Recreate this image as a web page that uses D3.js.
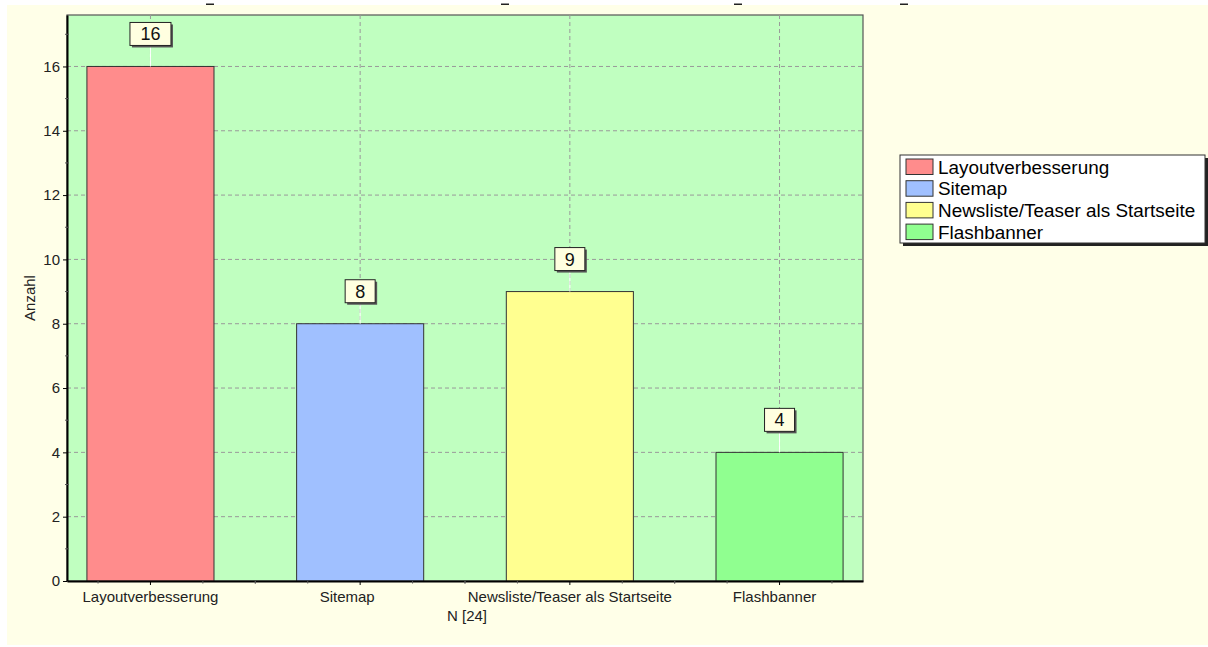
<!DOCTYPE html>
<html>
<head>
<meta charset="utf-8">
<script src="https://cdn.jsdelivr.net/npm/d3@7"></script>
<style>
  html, body { margin: 0; padding: 0; background: #ffffff; }
  svg { display: block; font-family: Arial, "Liberation Sans", sans-serif; }
</style>
</head>
<body>
<svg id="chart" width="1208" height="647"></svg>
<script>
// Survey answers and their counts
const categories = ["Layoutverbesserung", "Sitemap", "Newsliste/Teaser als Startseite", "Flashbanner"];
const counts = [16, 8, 9, 4];
const barColors = ["#ff8c8c", "#a0c0ff", "#ffff90", "#90ff90"];
const yTicks = [0, 2, 4, 6, 8, 10, 12, 14, 16];
const yAxisTitle = "Anzahl";
const xAxisTitle = "N [24]";

const svg = d3.select("#chart");
const W = 1208, H = 647;
const plot = { left: 67, right: 863, top: 15, bottom: 581 };
// horizontal nudges of the category labels under the axis
const xLabelShift = { "Sitemap": -13, "Flashbanner": -5 };

// page background
svg.append("rect").attr("x", 7).attr("y", 5).attr("width", W - 7).attr("height", H - 7)
  .attr("fill", "#ffffe8");

// remnants of the clipped heading row
const headMarks = [206, 501, 734, 900];
svg.selectAll("rect.head").data(headMarks).join("rect").attr("class", "head")
  .attr("x", d => d).attr("y", 3.5).attr("width", 8).attr("height", 1.5).attr("fill", "#222");

const x = d3.scaleBand().domain(categories).range([plot.left, plot.right])
  .paddingInner(0.394).paddingOuter(0.095);
const y = d3.scaleLinear().domain([0, 17.6]).range([plot.bottom, plot.top]);

// plot area
svg.append("rect").attr("x", plot.left).attr("y", plot.top)
  .attr("width", plot.right - plot.left).attr("height", plot.bottom - plot.top)
  .attr("fill", "#c0ffc0").attr("stroke", "#555").attr("stroke-width", 1.2);

const cx = d => x(d) + x.bandwidth() / 2;

// dashed grid
const grid = svg.append("g").attr("stroke", "#999").attr("stroke-dasharray", "4,3").attr("stroke-width", 1);
grid.selectAll("line.h").data(yTicks.filter(v => v > 0)).join("line").attr("class", "h")
  .attr("x1", plot.left).attr("x2", plot.right).attr("y1", d => y(d)).attr("y2", d => y(d));
grid.selectAll("line.v").data(categories).join("line").attr("class", "v")
  .attr("x1", cx).attr("x2", cx).attr("y1", plot.top).attr("y2", plot.bottom);

// bars
svg.selectAll("rect.bar").data(categories).join("rect").attr("class", "bar")
  .attr("x", d => x(d)).attr("width", x.bandwidth())
  .attr("y", (d, i) => y(counts[i])).attr("height", (d, i) => y(0) - y(counts[i]))
  .attr("fill", (d, i) => barColors[i]).attr("stroke", "#333").attr("stroke-width", 1);

// y axis
const yAxis = d3.axisLeft(y).tickValues(yTicks).tickSizeInner(4).tickSizeOuter(0).tickPadding(3).tickFormat(d3.format("d"));
const gy = svg.append("g").attr("transform", `translate(${plot.left},0)`).call(yAxis);
gy.select(".domain").attr("stroke", "#000").attr("stroke-width", 2);
gy.selectAll("text").attr("font-size", 15).attr("fill", "#222").attr("font-family", "Arial, 'Liberation Sans', sans-serif");
const yMinor = d3.range(1, 17.6, 2);
gy.selectAll("line.minor").data(yMinor).join("line").attr("class", "minor")
  .attr("x1", -2).attr("x2", 2).attr("y1", d => y(d)).attr("y2", d => y(d)).attr("stroke", "#555");

// x axis
const xAxis = d3.axisBottom(x).tickSizeInner(4).tickSizeOuter(0).tickPadding(6);
const gx = svg.append("g").attr("transform", `translate(0,${plot.bottom})`).call(xAxis);
gx.select(".domain").attr("stroke", "#000").attr("stroke-width", 2);
gx.selectAll(".tick text").attr("font-size", 15).attr("fill", "#222")
  .attr("font-family", "Arial, 'Liberation Sans', sans-serif")
  .attr("dx", d => xLabelShift[d] || 0);
const step = x.step();
const xMinor = [];
categories.forEach(c => [-0.5, -0.25, 0.25, 0.5].forEach(f => xMinor.push(cx(c) + f * step)));
gx.selectAll("line.minor").data(xMinor.filter(v => v > plot.left && v < plot.right)).join("line").attr("class", "minor")
  .attr("x1", d => d).attr("x2", d => d).attr("y1", 0).attr("y2", 2.5).attr("stroke", "#555");

// axis titles
svg.append("text").attr("transform", "translate(35,298) rotate(-90)")
  .attr("text-anchor", "middle").attr("font-size", 15).attr("fill", "#222").text(yAxisTitle);
svg.append("text").attr("x", (plot.left + plot.right) / 2 + 2).attr("y", 621)
  .attr("text-anchor", "middle").attr("font-size", 15).attr("fill", "#222").text(xAxisTitle);

// value labels with connector
const lab = svg.selectAll("g.lab").data(categories).join("g").attr("class", "lab");
lab.append("line").attr("x1", cx).attr("x2", cx)
  .attr("y1", (d, i) => y(counts[i]) - 21).attr("y2", (d, i) => y(counts[i]))
  .attr("stroke", "#fff").attr("stroke-width", 1);
lab.each(function (d, i) {
  const g = d3.select(this);
  const txt = String(counts[i]);
  const w = txt.length > 1 ? 41 : 30, h = 23;
  const bx = cx(d) - w / 2, by = y(counts[i]) - 21 - h;
  g.append("rect").attr("x", bx + 2).attr("y", by + 2).attr("width", w).attr("height", h).attr("fill", "#555");
  g.append("rect").attr("x", bx).attr("y", by).attr("width", w).attr("height", h)
    .attr("fill", "#ffffe0").attr("stroke", "#222").attr("stroke-width", 1);
  g.append("text").attr("x", cx(d)).attr("y", by + h / 2 + 6.5).attr("text-anchor", "middle")
    .attr("font-size", 18).attr("fill", "#111").text(txt);
});

// legend
const leg = { x: 900, y: 155, w: 305, h: 88 };
svg.append("rect").attr("x", leg.x + 3).attr("y", leg.y + 3).attr("width", leg.w).attr("height", leg.h).attr("fill", "#222");
svg.append("rect").attr("x", leg.x).attr("y", leg.y).attr("width", leg.w).attr("height", leg.h)
  .attr("fill", "#fff").attr("stroke", "#333").attr("stroke-width", 1);
const items = svg.selectAll("g.li").data(categories).join("g").attr("class", "li")
  .attr("transform", (d, i) => `translate(${leg.x + 6},${leg.y + 4 + i * 21.7})`);
items.append("rect").attr("x", 0).attr("y", 0).attr("width", 27).attr("height", 15.5)
  .attr("fill", (d, i) => barColors[i]).attr("stroke", "#333").attr("stroke-width", 1);
items.append("text").attr("x", 32).attr("y", 14.5).attr("font-size", 18.9).attr("fill", "#000").text(d => d);
</script>
</body>
</html>
